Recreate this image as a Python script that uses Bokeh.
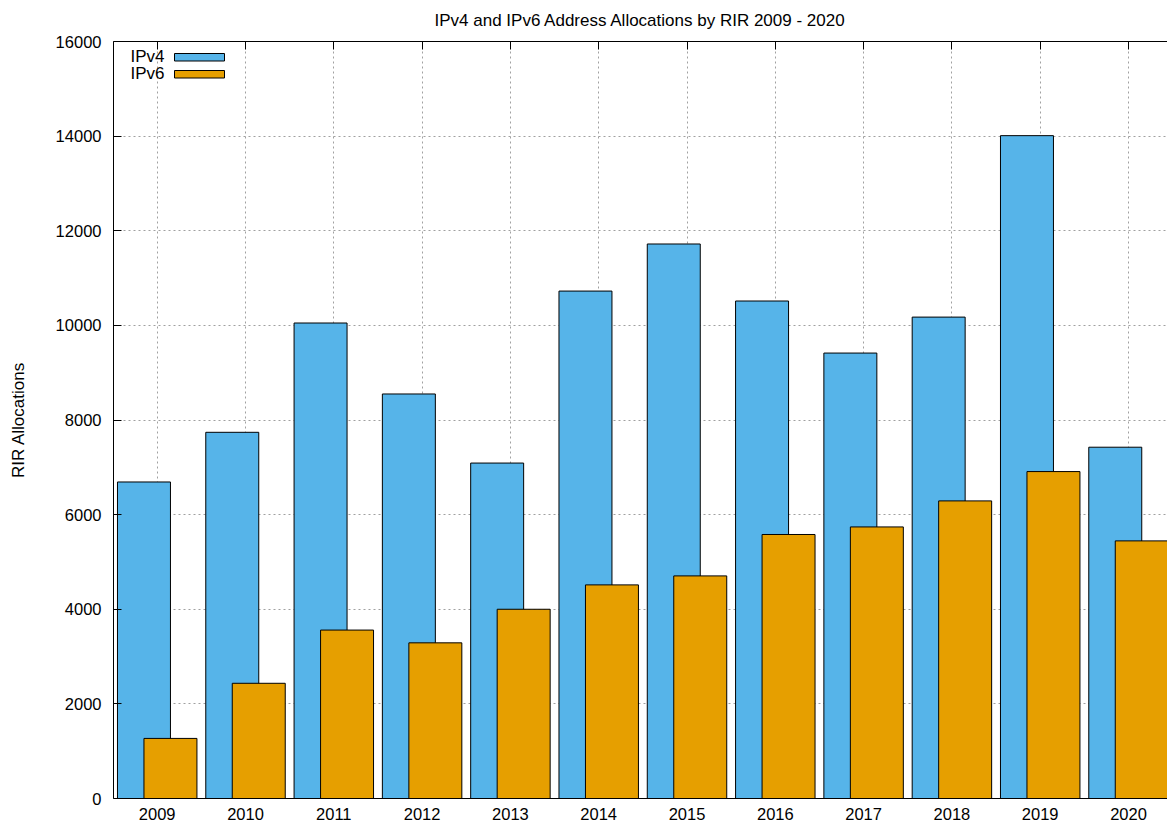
from bokeh.plotting import figure
from bokeh.models import (ColumnDataSource, FixedTicker, LinearAxis, Range1d)
from bokeh.core.properties import value
from bokeh.transform import dodge
from bokeh.embed import file_html
from bokeh.resources import INLINE

# ---------------- data ----------------
years = [2009, 2010, 2011, 2012, 2013, 2014, 2015, 2016, 2017, 2018, 2019, 2020]
ipv4 = [6690, 7740, 10050, 8550, 7090, 10725, 11720, 10515, 9415, 10175, 14010, 7425]
ipv6 = [1270, 2435, 3560, 3290, 4000, 4515, 4705, 5580, 5740, 6290, 6910, 5445]
y_ticks = [0, 2000, 4000, 6000, 8000, 10000, 12000, 14000, 16000]
series_names = ["IPv4", "IPv6"]
series_colors = ["#56B4E9", "#E69F00"]
title_text = "IPv4 and IPv6 Address Allocations by RIR 2009 - 2020"
y_label = "RIR Allocations"

# ---------------- layout ----------------
FONT = "Liberation Sans"
TICK_FS = "16.5px"
TEXT_FS = "17px"
W, H = 1167, 824
BL, BR, BT, BB = 113, 0, 41, 26
FW, FH = W - BL - BR, H - BT - BB
X0 = 2008.505
X1 = X0 + FW / 88.3
Y0, Y1 = 0, 16000


def xd(px):  # frame px from left -> data x
    return X0 + px * (X1 - X0) / FW


def yd(px):  # frame px from top -> data y
    return Y1 - px * (Y1 - Y0) / FH


src = ColumnDataSource(dict(year=years, ipv4=ipv4, ipv6=ipv6))

p = figure(width=W, height=H, x_range=Range1d(X0, X1), y_range=Range1d(Y0, Y1),
           output_backend="svg", toolbar_location=None,
           min_border_left=BL, min_border_right=BR, min_border_top=BT,
           min_border_bottom=BB, background_fill_color="white",
           border_fill_color="white")
p.outline_line_color = None

# title
p.title.text = title_text
p.title.align = "center"
p.title.vertical_align = "top"
p.title.offset = 3
p.title.standoff = 20
p.title.text_font = FONT
p.title.text_font_size = TEXT_FS
p.title.text_font_style = "normal"
p.title.text_color = "black"

# grid
for g in (p.xgrid, p.ygrid):
    g.grid_line_color = "#a0a0a0"
    g.grid_line_dash = "2 3"
    g.grid_line_width = 1
p.xgrid.ticker = FixedTicker(ticks=years)
p.ygrid.ticker = FixedTicker(ticks=y_ticks)

# bars
p.vbar(x=dodge("year", -0.15, range=p.x_range), top="ipv4", bottom=0, width=0.6,
       source=src, fill_color=series_colors[0], line_color="black", line_width=1)
p.vbar(x=dodge("year", 0.15, range=p.x_range), top="ipv6", bottom=0, width=0.6,
       source=src, fill_color=series_colors[1], line_color="black", line_width=1)

# axes
xa = p.xaxis[0]
xa.ticker = FixedTicker(ticks=years)
xa.major_tick_in = 0
xa.major_tick_out = 0
xa.minor_tick_in = 0
xa.minor_tick_out = 0
xa.major_label_standoff = 9
xa.major_label_text_font = FONT
xa.major_label_text_font_size = TICK_FS
xa.major_label_text_color = "black"
xa.axis_line_color = "black"

ya = p.yaxis[0]
ya.ticker = FixedTicker(ticks=y_ticks)
ya.major_tick_in = 8
ya.major_tick_out = 0
ya.minor_tick_in = 0
ya.minor_tick_out = 0
ya.major_label_standoff = 12
ya.major_label_text_font = FONT
ya.major_label_text_font_size = TICK_FS
ya.major_label_text_color = "black"
ya.axis_line_color = "black"
ya.major_tick_line_color = "black"
ya.axis_label = y_label
ya.axis_label_text_font = FONT
ya.axis_label_text_font_size = TEXT_FS
ya.axis_label_text_font_style = "normal"
ya.axis_label_text_color = "black"
ya.axis_label_standoff = 25

top = LinearAxis(ticker=FixedTicker(ticks=years), major_tick_in=8, major_tick_out=0,
                 minor_tick_in=0, minor_tick_out=0,
                 major_label_overrides={y: "" for y in years},
                 major_label_standoff=0, axis_line_color="black",
                 major_tick_line_color="black")
p.add_layout(top, "above")

# cover behind key (gnuplot key clears grid)
p.quad(left=[xd(0)], right=[xd(118)], bottom=[yd(44)], top=[yd(1)],
       fill_color="white", line_color=None, level="underlay")

# legend (gnuplot style: label then sample)
for i, (name, col) in enumerate(zip(series_names, series_colors)):
    cy = 15 + 17 * i
    p.text(x=[xd(51)], y=[yd(cy)], text=[name], text_align="right",
           text_baseline="middle", text_font=value(FONT), text_font_size=TEXT_FS,
           text_color="black")
    p.quad(left=[xd(61)], right=[xd(111)], bottom=[yd(cy + 4.5)], top=[yd(cy - 3)],
           fill_color=col, line_color="black", line_width=1)

open("out.html", "w").write(file_html(p, INLINE))
